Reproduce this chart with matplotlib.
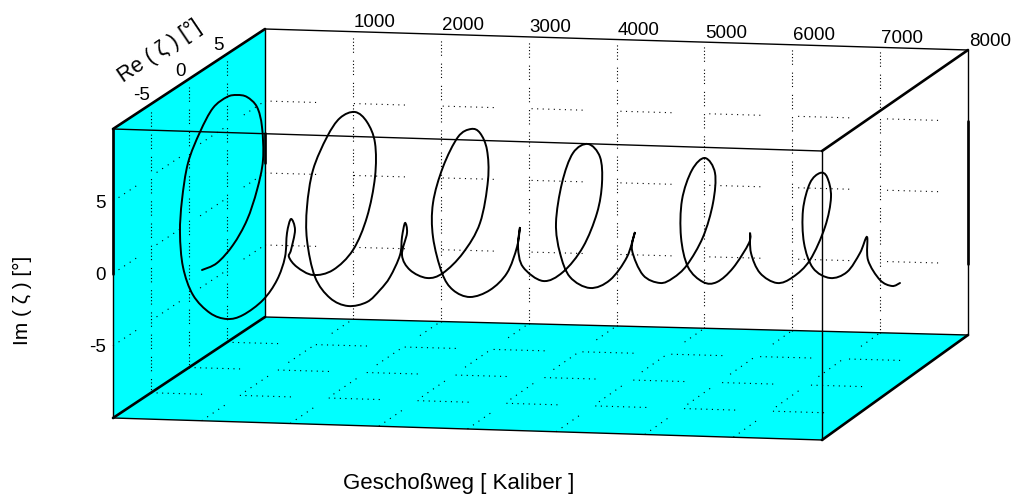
'''
Geschossbahn: Re / Im of the yaw angle over the travelled distance, oblique view of a box
'''
import numpy as np
import matplotlib
matplotlib.use('Agg')
import matplotlib.pyplot as plt
from matplotlib.path import Path
from matplotlib.patches import PathPatch

plt.rcParams['font.family'] = ['Liberation Sans', 'DejaVu Sans']

# axis values
weg_ticks = [1000, 2000, 3000, 4000, 5000, 6000, 7000, 8000]
re_ticks = [-5, 0, 5]
im_ticks = [-5, 0, 5]

# curve, in the projection plane (pixels of the reference)
curve_h = [202, 217, 233, 247, 257, 263, 262, 257, 247, 237, 227, 213, 200, 188, 182, 180, 183, 193, 210, 227,
           243, 263, 277, 285, 287, 291, 295, 291, 289, 297, 313, 333, 353, 367, 375, 375, 367, 355, 340, 327,
           313, 307, 307, 315, 330, 348, 367, 380, 390, 400, 402, 405, 407, 402, 410, 427, 443, 463, 480, 488,
           487, 480, 471, 458, 443, 433, 433, 442, 453, 470, 490, 507, 517, 520, 518, 523, 543, 563, 583, 597,
           602, 600, 588, 573, 562, 556, 560, 570, 590, 610, 627, 635, 632, 643, 660, 673, 687, 703, 713, 715,
           705, 692, 682, 681, 688, 703, 717, 733, 749, 750, 751, 760, 777, 793, 810, 825, 831, 827, 820, 810,
           803, 804, 813, 830, 847, 860, 867, 868, 880, 892, 900]
curve_v = [270, 263, 245, 220, 190, 160, 127, 107, 97, 95, 97, 108, 132, 163, 200, 233, 267, 295, 313, 319,
           315, 300, 280, 257, 233, 219, 230, 250, 257, 267, 275, 270, 250, 217, 177, 143, 122, 112, 118, 137,
           170, 207, 240, 277, 298, 306, 302, 290, 277, 255, 237, 223, 233, 255, 270, 278, 273, 253, 223, 180,
           150, 133, 129, 137, 167, 203, 237, 273, 290, 297, 290, 273, 247, 227, 247, 267, 281, 272, 247, 213,
           183, 157, 144, 153, 183, 223, 253, 277, 288, 280, 257, 232, 250, 275, 283, 278, 265, 237, 203, 173,
           158, 170, 200, 237, 267, 282, 282, 268, 243, 233, 253, 273, 283, 277, 260, 227, 197, 177, 173, 183,
           210, 243, 268, 278, 272, 253, 237, 260, 280, 286, 283]

# box corners in the picture: (weg, re, im) -> (h, v)
front_top_l = (113, 129)
front_bot_l = (113, 418)
back_top_l = (265, 29)
back_bot_l = (265, 317)
front_top_r = (822, 151)
front_bot_r = (822, 440)
back_top_r = (968, 50)
back_bot_r = (968, 335)


def project(weg, re, im):
    a = weg / 8000
    b = (re + 10) / 20
    c = (im + 10) / 20
    p = np.zeros(2)
    for i in range(2):
        bot = (1-a)*((1-b)*front_bot_l[i] + b*back_bot_l[i]) + a*((1-b)*front_bot_r[i] + b*back_bot_r[i])
        top = (1-a)*((1-b)*front_top_l[i] + b*back_top_l[i]) + a*((1-b)*front_top_r[i] + b*back_top_r[i])
        p[i] = (1-c)*bot + c*top
    return p


def line3(ax, start, end, **kw):
    p, q = project(*start), project(*end)
    ax.plot([p[0], q[0]], [p[1], q[1]], **kw)


def smooth_path(h, v):
    # bezier segments through the read points
    pts = np.column_stack([h, v]).astype(float)
    verts = [pts[0]]
    codes = [Path.MOVETO]
    n = len(pts)
    for i in range(n - 1):
        prev = pts[max(i - 1, 0)]
        nxt = pts[min(i + 2, n - 1)]
        verts += [pts[i] + (pts[i + 1] - prev) / 6, pts[i + 1] - (nxt - pts[i]) / 6, pts[i + 1]]
        codes += [Path.CURVE4] * 3
    return Path(verts, codes)


def dotted(dot_gap, count, gap):
    # groups of dots, the old printout leaves holes in its grid lines
    return (0, (1, dot_gap) * (count - 1) + (1, gap))


fig = plt.figure(figsize=(10.17, 4.95), dpi=100)
ax = fig.add_axes([0, 0, 1, 1])
ax.set_xlim(0, 1017)
ax.set_ylim(495, 0)
ax.axis('off')

# cyan walls
ax.fill(*zip(front_top_l, back_top_l, back_bot_l, front_bot_l), color='#00ffff', lw=0)
ax.fill(*zip(front_bot_l, back_bot_l, back_bot_r, front_bot_r), color='#00ffff', lw=0)

# dotted grid
upright = dict(color='black', lw=0.8, ls=dotted(2, 5, 7))
along = dict(color='black', lw=0.8, ls=dotted(4, 10, 34))
slanted = dict(color='black', lw=0.8, ls=dotted(5, 5, 22))
for w in weg_ticks[:-1]:
    line3(ax, (w, 10, -10), (w, 10, 10), **upright)
    line3(ax, (w, -10, -10), (w, 10, -10), **slanted)
for v in im_ticks:
    line3(ax, (0, 10, v), (8000, 10, v), **along)
    line3(ax, (0, -10, v), (0, 10, v), **slanted)
for v in re_ticks:
    line3(ax, (0, v, -10), (0, v, 10), **upright)
    line3(ax, (0, v, -10), (8000, v, -10), **along)

# box edges
thin = dict(color='black', lw=1.0, solid_capstyle='round')
thick = dict(color='black', lw=1.9, solid_capstyle='round')
line3(ax, (0, 10, 10), (8000, 10, 10), **thin)
line3(ax, (0, 10, -10), (8000, 10, -10), **thin)
line3(ax, (0, -10, -10), (8000, -10, -10), **thin)
line3(ax, (0, 10, -10), (0, 10, 10), **thin)
line3(ax, (8000, 10, -10), (8000, 10, 10), **thin)
line3(ax, (0, -10, -10), (0, -10, 10), **thin)
line3(ax, (0, -10, 10), (0, 10, 10), **thick)
line3(ax, (0, -10, -10), (0, 10, -10), **thick)
line3(ax, (8000, -10, 10), (8000, 10, 10), **thick)
line3(ax, (8000, -10, -10), (8000, 10, -10), **thick)
line3(ax, (0, -10, 0), (0, -10, 10), **thick)
line3(ax, (8000, 10, -5), (8000, 10, 5), **thick)
line3(ax, (0, 10, 0.7), (0, 10, 2.8), **thick)

# curve, then the front edges over it
ax.add_patch(PathPatch(smooth_path(curve_h, curve_v), facecolor='none', edgecolor='black', lw=1.4, capstyle='round'))
line3(ax, (0, -10, 10), (8000, -10, 10), **thin)
line3(ax, (8000, -10, -10), (8000, -10, 10), **thin)

# labels
font = 13.5
for w in weg_ticks:
    h, v = project(w, 10, 10)
    ax.text(h + 22, v - 9, str(w), ha='center', va='center', fontsize=font)
for r in re_ticks:
    h, v = project(0, r, 10)
    ax.text(h - 9, v - 8, str(r), ha='center', va='center', fontsize=font)
for i in im_ticks:
    h, v = project(0, -10, i)
    ax.text(h - 7, v + 2, str(i), ha='right', va='center', fontsize=font)

ax.text(160, 52, 'Re ( ζ ) [°]', rotation=34, ha='center', va='center', fontsize=15.5)
ax.text(22, 300, 'Im ( ζ ) [°]', rotation=90, ha='center', va='center', fontsize=15)
ax.text(459, 483, 'Geschoßweg [ Kaliber ]', ha='center', va='center', fontsize=16)

plt.savefig('out.png', dpi=100)
